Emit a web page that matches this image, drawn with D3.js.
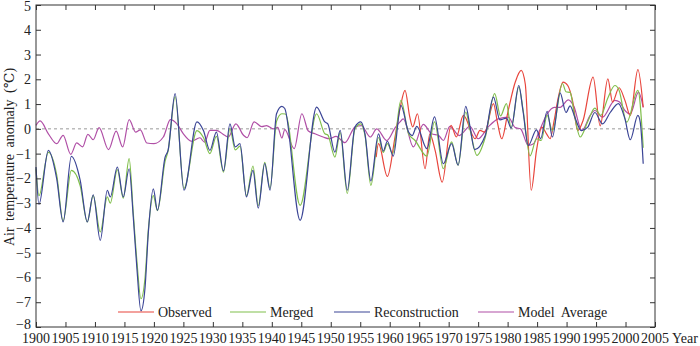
<!DOCTYPE html>
<html>
<head>
<meta charset="utf-8">
<script src="https://cdn.jsdelivr.net/npm/d3@7"></script>
<style>
  html, body { margin: 0; padding: 0; background: #fff; }
  svg { display: block; font-family: "Liberation Serif", "DejaVu Serif", serif; }
  .axis-title { font-size: 14px; fill: #222; }
  .tick-label { font-size: 14px; fill: #222; }
</style>
</head>
<body>
<div id="chart"></div>
<script>
// [year, anomaly]
const reconstruction = [
  [1900, -1.54], [1900.5, -3.05], [1902.1, -0.87], [1903.5, -2.0], [1904.6, -3.76],
  [1906.0, -1.11], [1907.5, -2.08], [1908.7, -3.76], [1909.7, -2.66], [1910.9, -4.5],
  [1912.1, -2.48], [1912.6, -2.75], [1913.8, -1.54], [1914.8, -2.75], [1915.8, -1.61],
  [1916.5, -3.56], [1917.1, -5.58], [1917.8, -7.35], [1918.5, -6.4], [1919.05, -4.2],
  [1919.9, -2.42], [1920.6, -3.29], [1921.9, -1.14], [1922.4, -0.87], [1923.6, 1.42],
  [1925.1, -2.48], [1927.3, 0.28], [1928.4, -0.07], [1929.5, -0.87], [1930.6, -0.13],
  [1931.8, -1.7], [1932.9, 0.2], [1933.8, -0.73], [1934.6, -0.6], [1935.7, -2.75],
  [1936.8, -1.68], [1937.7, -3.2], [1938.8, -1.4], [1939.7, -2.48], [1940.8, 0.61],
  [1941.7, 0.91], [1942.2, 0.82], [1944.8, -3.69], [1947.6, 0.88], [1949.0, 0.28],
  [1949.5, 0.2], [1950.7, -0.94], [1951.6, -0.06], [1952.8, -2.48], [1954.1, 0.07],
  [1955.1, 0.28], [1955.8, -0.2], [1956.8, -2.1], [1958.1, -0.2], [1958.9, -0.9],
  [1959.6, -0.5], [1960.6, -1.1], [1961.9, 0.95], [1963.2, -0.13], [1963.8, -0.27],
  [1964.6, 0.1], [1966.3, -0.8], [1967.6, 0.48], [1969.1, -1.41], [1970.5, -0.6],
  [1971.6, -1.47], [1972.9, 0.91], [1973.6, 0.12], [1974.4, -0.84], [1976.2, -0.27],
  [1977.6, 1.28], [1978.7, 0.36], [1979.8, 0.43], [1980.6, 0.03], [1981.9, 1.75],
  [1982.6, 0.74], [1983.5, -0.67], [1984.9, -0.04], [1985.6, -0.4], [1986.7, 0.71],
  [1987.6, -0.33], [1988.9, 1.45], [1989.9, 0.66], [1990.6, 0.93], [1991.4, 0.47],
  [1992.5, -0.07], [1993.6, 0.07], [1994.8, 0.66], [1996.1, 0.2], [1997.4, 0.66],
  [1998.8, 1.02], [1999.9, 0.4], [2000.8, -0.44], [2002.1, 0.54], [2002.5, 0.26],
  [2003, -1.41]
];

const merged = [
  [1900, -1.6], [1900.5, -2.7], [1902.1, -0.95], [1903.5, -1.85], [1904.6, -3.72],
  [1906.0, -1.68], [1907.5, -2.3], [1908.7, -3.76], [1909.7, -2.7], [1910.9, -4.16],
  [1912.1, -2.75], [1912.6, -3.0], [1913.8, -1.65], [1914.8, -2.8], [1915.8, -1.2],
  [1916.5, -3.4], [1917.1, -5.3], [1917.8, -6.86], [1918.5, -6.0], [1919.05, -4.1],
  [1919.9, -2.7], [1920.6, -3.3], [1921.9, -1.3], [1922.4, -0.9], [1923.6, 1.3],
  [1925.1, -2.4], [1927.3, -0.07], [1928.4, -0.35], [1929.5, -1.0], [1930.6, -0.3],
  [1931.8, -1.75], [1932.9, 0.0], [1933.8, -0.85], [1934.6, -0.7], [1935.7, -2.7],
  [1936.8, -1.5], [1937.7, -3.1], [1938.8, -1.35], [1939.7, -2.4], [1940.8, 0.3],
  [1941.7, 0.61], [1942.3, 0.6], [1944.8, -3.09], [1947.6, 0.61], [1949.0, -0.2],
  [1949.5, -0.25], [1950.7, -1.14], [1951.6, -0.15], [1952.8, -2.61], [1954.1, 0.0],
  [1955.1, 0.2], [1955.8, -0.25], [1956.8, -2.28], [1958.1, -0.35], [1958.9, -0.95],
  [1959.6, -0.6], [1960.5, -1.0], [1961.9, 1.15], [1963.2, -0.2], [1964.3, -0.47],
  [1966.3, -1.1], [1967.6, 0.28], [1969.1, -1.61], [1970.5, -0.53], [1971.6, -1.47],
  [1972.9, 0.68], [1973.6, 0.0], [1974.8, -1.07], [1976.2, -0.35], [1977.8, 1.42],
  [1978.8, 0.52], [1979.8, 1.02], [1980.6, 0.03], [1981.9, 1.69], [1982.6, 0.8],
  [1983.8, -1.09], [1984.9, -0.4], [1985.7, -0.47], [1986.7, 0.54], [1987.6, -0.07],
  [1989.3, 1.83], [1989.9, 1.5], [1990.6, 1.47], [1991.4, 0.47], [1992.3, -0.33],
  [1993.6, 0.3], [1994.8, 0.84], [1995.8, 0.54], [1997.0, 1.25], [1998.2, 1.75],
  [1998.9, 1.56], [2000.2, 0.27], [2002.1, 1.55], [2003, -0.76]
];

const observed = [
  [1957.7, -1.14], [1958.1, -0.6], [1959.6, -1.92], [1960.9, -0.33], [1961.8, 0.88],
  [1962.6, 1.55], [1963.4, 0.48], [1963.9, 0.08], [1964.7, 0.61], [1966.0, -1.61],
  [1966.8, -0.2], [1967.7, -0.87], [1968.9, -2.15], [1970.4, 0.14], [1971.3, -0.33],
  [1972.5, 0.54], [1974.5, -0.4], [1975.3, -0.06], [1976.1, -0.13], [1977.6, 1.02],
  [1978.3, 0.22], [1979.0, -0.4], [1980.1, 0.74], [1981.3, 1.89], [1982.3, 2.36],
  [1983.0, 1.8], [1984.0, -2.48], [1984.9, -0.87], [1985.8, 0.07], [1986.6, -0.2],
  [1987.2, -0.4], [1987.9, 0.34], [1988.5, 1.15], [1989.4, 1.89], [1990.2, 1.75],
  [1991.0, 1.15], [1991.9, -0.07], [1992.8, 0.34], [1994.5, 2.09], [1995.7, 0.12],
  [1997.0, 2.02], [1997.8, 1.08], [1998.9, 1.66], [1999.9, 1.15], [2000.8, 0.54],
  [2002.1, 2.39], [2003, 0.87]
];

const modelAverage = [
  [1900, 0.14], [1900.7, 0.32], [1902.1, -0.2], [1903.5, -0.6], [1904.6, -0.26],
  [1905.9, -1.03], [1906.9, -0.57], [1907.9, -0.73], [1908.8, -0.22], [1909.7, -0.44],
  [1910.7, 0.05], [1912.3, -0.84], [1913.6, -0.09], [1914.7, -0.73], [1915.8, 0.37],
  [1916.9, -0.13], [1917.7, -0.04], [1918.8, -0.57], [1920.0, -0.6], [1921.6, -0.33],
  [1922.8, 0.37], [1923.9, 0.2], [1925.0, -0.2], [1926.4, -0.5], [1927.8, -0.36],
  [1928.6, -0.54], [1929.5, -0.06], [1930.6, -0.06], [1932.0, -0.26], [1932.6, -0.33],
  [1933.9, 0.2], [1935.2, -0.26], [1935.8, -0.36], [1937.0, 0.28], [1938.3, 0.09],
  [1939.1, 0.13], [1940.3, 0.0], [1941.0, 0.06], [1941.7, -0.37], [1942.2, -0.03],
  [1943.8, -0.8], [1945.1, 0.61], [1946.2, -0.09], [1947.3, -0.2], [1948.7, -0.33],
  [1949.8, -0.4], [1950.9, -0.3], [1952.4, -0.56], [1954.1, 0.07], [1955.2, 0.13],
  [1956.7, -0.33], [1957.8, 0.0], [1959.5, -0.47], [1960.9, 0.04], [1961.7, 0.27],
  [1962.3, 0.4], [1964.0, -0.73], [1965.7, 0.18], [1967.1, -0.2], [1968.3, -0.27],
  [1969.1, -0.47], [1970.2, 0.1], [1971.8, -0.27], [1973.6, 0.1], [1975.0, -0.4],
  [1976.8, 0.1], [1978.4, 0.4], [1980.1, 0.47], [1981.3, 0.05], [1982.2, 0.0],
  [1983.5, -0.67], [1984.4, -0.6], [1985.3, -0.13], [1986.7, 0.6], [1987.9, 0.87],
  [1988.9, 0.87], [1990.3, 1.17], [1991.2, 0.93], [1992.6, -0.07], [1994.0, 0.54],
  [1994.8, 0.74], [1996.1, 0.47], [1998.2, 1.15], [1999.0, 1.08], [1999.9, 0.74],
  [2000.8, 0.6], [2002.2, 1.48], [2003, 0.87]
];

const xTicks = d3.range(1900, 2006, 5);
const yTicks = d3.range(-8, 6, 1);

const series = [
  { name: "Observed", data: observed, color: "#e8453c" },
  { name: "Merged", data: merged, color: "#80bf4c" },
  { name: "Reconstruction", data: reconstruction, color: "#3b4596" },
  { name: "Model  Average", data: modelAverage, color: "#b04fa6" }
];

const width = 700;
const height = 346;
const margin = { top: 5, right: 45, bottom: 19, left: 36 };

const svg = d3
  .select("#chart")
  .append("svg")
  .attr("width", width)
  .attr("height", height);

const x = d3
  .scaleLinear()
  .domain([1900, 2005])
  .range([margin.left, width - margin.right]);

const y = d3
  .scaleLinear()
  .domain([-8, 5])
  .range([height - margin.bottom, margin.top]);

// zero reference line
svg
  .append("line")
  .attr("x1", x(1900))
  .attr("x2", x(2005))
  .attr("y1", y(0))
  .attr("y2", y(0))
  .attr("stroke", "#999")
  .attr("stroke-width", 1)
  .attr("stroke-dasharray", "3,3");

const line = d3
  .line()
  .x((d) => x(d[0]))
  .y((d) => y(d[1]))
  .curve(d3.curveMonotoneX);

// purple and red underneath, blue on top
const drawOrder = [series[3], series[0], series[1], series[2]];
svg
  .append("g")
  .selectAll("path")
  .data(drawOrder)
  .join("path")
  .attr("fill", "none")
  .attr("stroke", (d) => d.color)
  .attr("stroke-width", 1.2)
  .attr("d", (d) => line(d.data));

// frame with inward ticks on all four sides
const tickLen = 5;
const axisStyle = (g) => {
  g.select(".domain").remove();
  g.selectAll(".tick line").attr("stroke", "#333");
  g.selectAll(".tick text").remove();
};

svg
  .append("g")
  .attr("transform", `translate(0,${y(-8)})`)
  .call(d3.axisTop(x).tickValues(xTicks).tickSize(tickLen))
  .call(axisStyle);

svg
  .append("g")
  .attr("transform", `translate(0,${y(5)})`)
  .call(d3.axisBottom(x).tickValues(xTicks).tickSize(tickLen))
  .call(axisStyle);

svg
  .append("g")
  .attr("transform", `translate(${x(1900)},0)`)
  .call(d3.axisRight(y).tickValues(yTicks).tickSize(tickLen))
  .call(axisStyle);

svg
  .append("g")
  .attr("transform", `translate(${x(2005)},0)`)
  .call(d3.axisLeft(y).tickValues(yTicks).tickSize(tickLen))
  .call(axisStyle);

svg
  .append("rect")
  .attr("x", x(1900))
  .attr("y", y(5))
  .attr("width", x(2005) - x(1900))
  .attr("height", y(-8) - y(5))
  .attr("fill", "none")
  .attr("stroke", "#333")
  .attr("stroke-width", 1);

// tick labels
svg
  .append("g")
  .selectAll("text")
  .data(xTicks)
  .join("text")
  .attr("class", "tick-label")
  .attr("x", (d) => x(d))
  .attr("y", 343)
  .attr("text-anchor", "middle")
  .text((d) => d);

svg
  .append("g")
  .selectAll("text")
  .data(yTicks)
  .join("text")
  .attr("class", "tick-label")
  .attr("x", 31)
  .attr("y", (d) => y(d) + (d === -8 ? 2 : d === 5 ? 6 : 5))
  .attr("text-anchor", "end")
  .text((d) => (d < 0 ? "\u2212" + Math.abs(d) : d));

svg
  .append("text")
  .attr("class", "axis-title")
  .attr("x", 672)
  .attr("y", 343)
  .text("Year");

svg
  .append("text")
  .attr("class", "axis-title")
  .attr("transform", "translate(14,157) rotate(-90)")
  .attr("text-anchor", "middle")
  .style("word-spacing", "3px")
  .text("Air temperature anomaly (\u2103)");

// legend
const legendX = [118, 230, 334, 478];
const legend = svg
  .append("g")
  .selectAll("g")
  .data(series)
  .join("g")
  .attr("transform", (d, i) => `translate(${legendX[i]},312)`);

legend
  .append("line")
  .attr("x1", 0)
  .attr("x2", 36)
  .attr("stroke", (d) => d.color)
  .attr("stroke-width", 1.2);

legend
  .append("text")
  .attr("class", "tick-label")
  .attr("x", 40)
  .attr("y", 5)
  .style("white-space", "pre")
  .text((d) => d.name);
</script>
</body>
</html>
